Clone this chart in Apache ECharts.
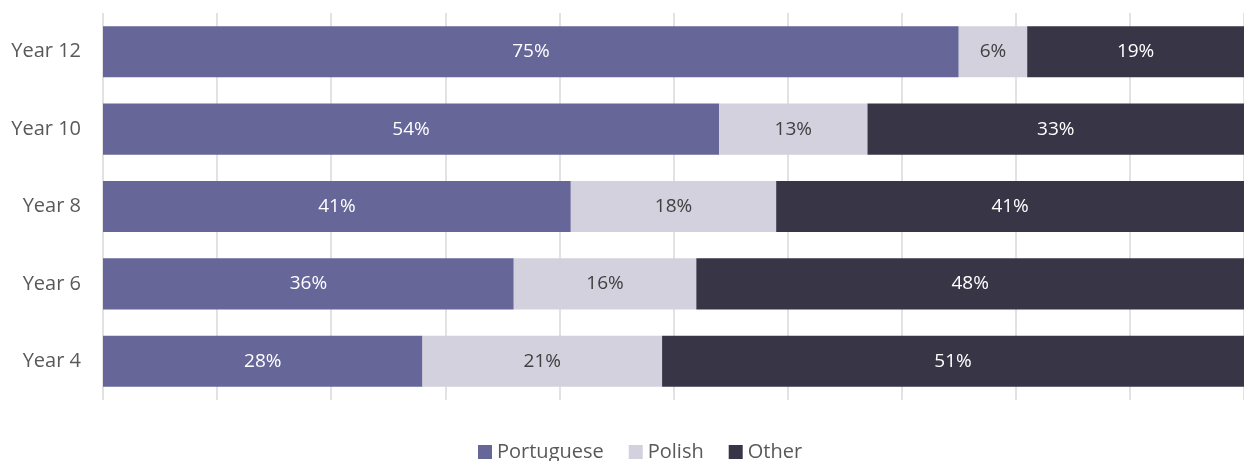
<!DOCTYPE html>
<html>
<head>
<meta charset="utf-8">
<script src="https://cdn.jsdelivr.net/npm/echarts@6/dist/echarts.min.js"></script>
<style>
    html, body { margin: 0; padding: 0; background: #fff; }
    #chart { width: 1244px; height: 461px; }
</style>
</head>
<body>
<div id="chart"></div>
<script>
    var years = ['Year 4', 'Year 6', 'Year 8', 'Year 10', 'Year 12'];
    var portuguese = [28, 36, 41, 54, 75];
    var polish = [21, 16, 18, 13, 6];
    var other = [51, 48, 41, 33, 19];

    var font = '"Open Sans", Lato, sans-serif';

    function seg(name, data, color, labelColor) {
        return {
            name: name,
            type: 'bar',
            stack: 'total',
            barWidth: '66%',
            data: data,
            itemStyle: { color: color },
            label: {
                show: true,
                position: 'inside',
                formatter: '{c}%',
                color: labelColor,
                fontSize: 19,
                fontFamily: font
            }
        }
    }

    var chart = echarts.init(document.getElementById('chart'));
    chart.setOption({
        animation: false,
        grid: { left: 103, right: 0, top: 13, bottom: 61 },
        legend: {
            bottom: -6,
            left: 473,
            itemWidth: 14,
            itemHeight: 14,
            itemGap: 25,
            icon: 'rect',
            textStyle: { fontSize: 20, color: '#595959', fontFamily: font },
            data: ['Portuguese', 'Polish', 'Other']
        },
        xAxis: {
            type: 'value',
            min: 0,
            max: 100,
            interval: 10,
            axisLabel: { show: false },
            axisLine: { show: false },
            axisTick: { show: false },
            splitLine: { lineStyle: { color: '#d9d9d9', width: 1.5 } }
        },
        yAxis: {
            type: 'category',
            data: years,
            axisLine: { show: false },
            axisTick: { show: false },
            axisLabel: { color: '#595959', fontSize: 20, margin: 22, fontFamily: font }
        },
        series: [
            seg('Portuguese', portuguese, '#666699', '#ffffff'),
            seg('Polish', polish, '#d3d1de', '#404040'),
            seg('Other', other, '#383547', '#ffffff')
        ]
    });
</script>
</body>
</html>
